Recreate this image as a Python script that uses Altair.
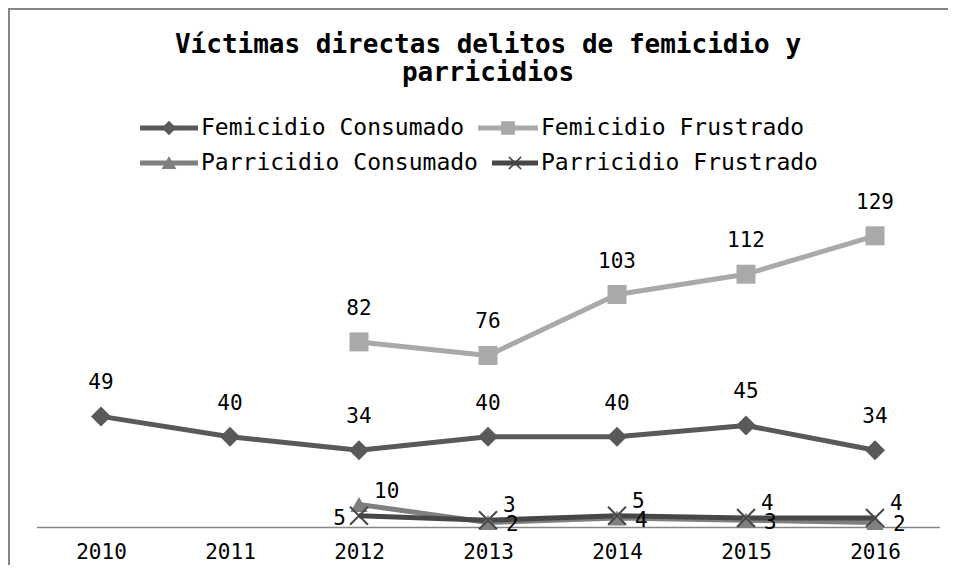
import altair as alt
import pandas as pd

years = ["2010", "2011", "2012", "2013", "2014", "2015", "2016"]
series_names = ["Femicidio Consumado", "Femicidio Frustrado",
                "Parricidio Consumado", "Parricidio Frustrado"]
femicidio_consumado = [49, 40, 34, 40, 40, 45, 34]
femicidio_frustrado = [None, None, 82, 76, 103, 112, 129]
parricidio_consumado = [None, None, 10, 2, 4, 3, 2]
parricidio_frustrado = [None, None, 5, 3, 5, 4, 4]
title_lines = ["Víctimas directas delitos de femicidio y", "parricidios"]

colors = ["#595959", "#a9a9a9", "#7f7f7f", "#474747"]
FONT = "DejaVu Sans Mono"
W, H = 903, 316
OX, OY = 36.5, 211  # plot origin on the page (layout)

rows = []
for name, vals in zip(series_names, [femicidio_consumado, femicidio_frustrado,
                                     parricidio_consumado, parricidio_frustrado]):
    for yr, v in zip(years, vals):
        if v is not None:
            rows.append({"year": yr, "series": name, "value": v})
df = pd.DataFrame(rows)

# legend layout (two rows, two entries each), built from the series names
leg_sym_x1 = [140, 478, 140, 492]
leg_sym_x2 = [198, 538, 198, 538]
leg_lab_x = [201, 541, 201, 541]
leg_row_y = [128, 128, 163, 163]
leg_df = pd.DataFrame({
    "series": series_names,
    "sx1": [v - OX for v in leg_sym_x1],
    "sx2": [v - OX for v in leg_sym_x2],
    "lx": [v - OX for v in leg_lab_x],
    "ly": [v - OY for v in leg_row_y],
})

x_enc = alt.X("year:O",
              scale=alt.Scale(type="point", padding=0.5, domain=years),
              axis=alt.Axis(title=None, domainColor="#868686", domainWidth=1.5,
                            ticks=False, grid=False, labelAngle=0,
                            labelFont=FONT, labelFontSize=21, labelColor="#000000",
                            labelPadding=14))
y_enc = alt.Y("value:Q", scale=alt.Scale(domain=[0, 140], nice=False), axis=None)
color_scale = alt.Scale(domain=series_names, range=colors)
color_nolegend = alt.Color("series:N", scale=color_scale, legend=None)
X_PATH = "M-1,-1L1,1M-1,1L1,-1"

base = alt.Chart(df)
one = pd.DataFrame({"k": [0]})

border_top = alt.Chart(one).mark_rule(color="#868686", strokeWidth=2).encode(
    x=alt.value(-28.5), x2=alt.value(W + 10), y=alt.value(-202))
border_left = alt.Chart(one).mark_rule(color="#868686", strokeWidth=2).encode(
    x=alt.value(-27.5), y=alt.value(-203), y2=alt.value(H + 40))

lines = base.mark_line(strokeWidth=5, strokeJoin="round").encode(
    x=x_enc, y=y_enc, color=color_nolegend, detail="series:N")

marker_shapes = ["diamond", "square", "triangle-up"]
marker_sizes = [400, 361, 300]
markers = []
for name, shp, sz in zip(series_names[:3], marker_shapes, marker_sizes):
    markers.append(
        base.transform_filter(alt.datum.series == name)
        .mark_point(shape=shp, size=sz, filled=True, opacity=1)
        .encode(x=x_enc, y=y_enc, color=color_nolegend)
    )
markers.append(
    base.transform_filter(alt.datum.series == series_names[3])
    .mark_point(shape=X_PATH, size=324, filled=False, strokeWidth=2, opacity=1)
    .encode(x=x_enc, y=y_enc, color=color_nolegend)
)

# manual legend: line segment + marker + label
leg = alt.Chart(leg_df)
leg_lines = leg.mark_rule(strokeWidth=5).encode(
    x=alt.X("sx1:Q", scale=None, axis=None), x2="sx2:Q",
    y=alt.Y("ly:Q", scale=None, axis=None), color=color_nolegend)
leg_marks = leg.transform_calculate(cx="(datum.sx1 + datum.sx2) / 2").mark_point(
    filled=True, opacity=1, size=150, strokeWidth=1.5
).encode(
    x=alt.X("cx:Q", scale=None, axis=None),
    y=alt.Y("ly:Q", scale=None, axis=None),
    color=color_nolegend,
    stroke=alt.Stroke("series:N", scale=alt.Scale(domain=series_names, range=colors), legend=None),
    shape=alt.Shape("series:N", scale=alt.Scale(domain=series_names,
                                                range=marker_shapes + [X_PATH]), legend=None),
)
leg_text = leg.mark_text(align="left", baseline="middle", font=FONT, fontSize=23,
                         color="#000000").encode(
    x=alt.X("lx:Q", scale=None, axis=None),
    y=alt.Y("ly:Q", scale=None, axis=None),
    text="series:N")

txt = dict(font=FONT, fontSize=21, color="#000000")
lab_fc = base.transform_filter(alt.datum.series == series_names[0]).mark_text(
    dy=-33, baseline="middle", align="center", **txt).encode(x=x_enc, y=y_enc, text="value:Q")
lab_ff = base.transform_filter(alt.datum.series == series_names[1]).mark_text(
    dy=-33, baseline="middle", align="center", **txt).encode(x=x_enc, y=y_enc, text="value:Q")
lab_pc = base.transform_filter((alt.datum.series == series_names[2]) & (alt.datum.year != "2012")).mark_text(
    dx=18, dy=3, baseline="middle", align="left", **txt).encode(x=x_enc, y=y_enc, text="value:Q")
lab_pc0 = base.transform_filter((alt.datum.series == series_names[2]) & (alt.datum.year == "2012")).mark_text(
    dx=15, dy=-12, baseline="middle", align="left", **txt).encode(x=x_enc, y=y_enc, text="value:Q")
lab_pf = base.transform_filter((alt.datum.series == series_names[3]) & (alt.datum.year != "2012")).mark_text(
    dx=15, dy=-14, baseline="middle", align="left", **txt).encode(x=x_enc, y=y_enc, text="value:Q")
lab_pf0 = base.transform_filter((alt.datum.series == series_names[3]) & (alt.datum.year == "2012")).mark_text(
    dx=-13, dy=3, baseline="middle", align="right", **txt).encode(x=x_enc, y=y_enc, text="value:Q")

title = alt.Chart(one).mark_text(
    text=title_lines, font=FONT, fontSize=26, fontWeight="bold", color="#000000",
    lineHeight=28, align="center", baseline="middle"
).encode(x=alt.value(W / 2), y=alt.value(-166))

chart = alt.layer(
    border_top, border_left, lines, *markers,
    leg_lines, leg_marks, leg_text,
    lab_fc, lab_ff, lab_pc, lab_pc0, lab_pf, lab_pf0, title
).properties(
    width=W, height=H,
    autosize=alt.AutoSizeParams(type="none"),
    padding={"left": 28.5, "top": 203, "right": 8, "bottom": 38},
    background="#ffffff",
).configure_view(strokeWidth=0)

chart.save("out.html", embed_options={"renderer": "svg", "actions": False})
